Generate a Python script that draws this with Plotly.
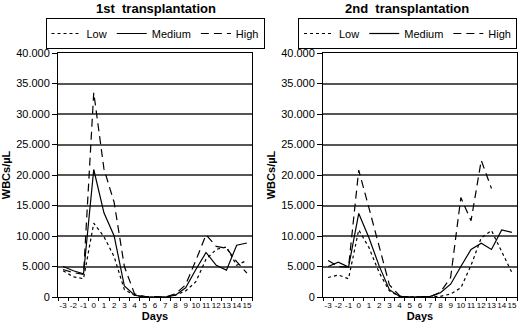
import plotly.graph_objects as go

days = ["-3", "-2", "-1", "0", "1", "2", "3", "4", "5", "6", "7", "8", "9", "10", "11", "12", "13", "14", "15"]

# 1st transplantation
low_1 = [4300, 3300, 3000, 12100, 9900, 6600, 1200, 300, 0, 0, 0, 300, 1000, 2500, 6200, 7800, 8200, 5200, 6000]
medium_1 = [5000, 4300, 3800, 20900, 13800, 10000, 1800, 300, 0, 0, 0, 300, 1500, 4500, 7300, 5200, 4400, 8500, 8850]
high_1 = [4500, 4000, 3700, 33500, 21000, 15500, 5000, 500, 100, 0, 0, 500, 2000, 6000, 10200, 8300, 8000, 5800, 3900]

# 2nd transplantation
low_2 = [3200, 3600, 3000, 11000, 8100, 4000, 1000, 100, 0, 0, 0, 100, 500, 1500, 5200, 9700, 10900, 7500, 4000]
medium_2 = [5000, 5700, 4900, 13700, 9700, 5100, 1200, 100, 0, 0, 100, 700, 2100, 5000, 7800, 8800, 7800, 11000, 10600]
high_2 = [6000, 5000, 4900, 20800, 14600, 8100, 2000, 200, 0, 0, 0, 800, 3200, 16300, 12500, 22400, 17800, None, None]

titles = ["1st  transplantation", "2nd  transplantation"]
series_names = ["Low", "Medium", "High"]
dashes = ["dot", "solid", "8px,5px"]

FONT = "Arial, Liberation Sans, sans-serif"
W, H = 520, 329
ML, MR, MT, MB = 58, 3, 53, 32
PW, PH = W - ML - MR, H - MT - MB

fig = go.Figure()

panels = [(low_1, medium_1, high_1), (low_2, medium_2, high_2)]
for p, vals in enumerate(panels):
    sfx = "" if p == 0 else "2"
    for name, v, d in zip(series_names, vals, dashes):
        fig.add_trace(go.Scatter(
            x=days, y=v, name=name, mode="lines",
            line=dict(color="black", width=1.2, dash=d),
            xaxis="x" + sfx, yaxis="y" + sfx,
            legend="legend" + sfx, connectgaps=False,
        ))

xd = [[0, (252 - ML) / PW], [(323 - ML) / PW, 1]]

axis_common_x = dict(
    type="category", showline=True, linecolor="black", linewidth=1, mirror=True,
    ticks="outside", ticklen=3, tickcolor="black", tickson="boundaries",
    tickangle=0, automargin=False,
    tickfont=dict(size=8, color="black", family=FONT),
    title=dict(text="<b>Days</b>", font=dict(size=11, color="black", family=FONT), standoff=3),
    showgrid=False, range=[-0.5, 18.5],
)
axis_common_y = dict(
    range=[0, 40000], dtick=5000, tickformat=",d",
    showline=True, linecolor="black", linewidth=1, mirror=True,
    ticks="outside", ticklen=5, tickcolor="black", automargin=False,
    showgrid=True, gridcolor="#555555", gridwidth=1.5,
    zeroline=False,
    tickfont=dict(size=11, color="black", family=FONT),
    title=dict(text="<b>WBCs/µL</b>", font=dict(size=11, color="black", family=FONT), standoff=3),
)

legend_common = dict(
    orientation="h", yanchor="top", xref="container", yref="container",
    bordercolor="black", borderwidth=1, bgcolor="white",
    font=dict(size=11, color="black", family=FONT),
    itemwidth=30, tracegroupgap=0,
)

fig.update_layout(
    width=W, height=H,
    margin=dict(l=ML, r=MR, t=MT, b=MB, autoexpand=False),
    paper_bgcolor="white", plot_bgcolor="white",
    separators=",.",
    font=dict(family=FONT, color="black"),
    showlegend=True,
    xaxis=dict(domain=xd[0], anchor="y", **axis_common_x),
    yaxis=dict(domain=[0, 1], anchor="x", **axis_common_y),
    xaxis2=dict(domain=xd[1], anchor="y2", **axis_common_x),
    yaxis2=dict(domain=[0, 1], anchor="x2", **axis_common_y),
    legend=dict(x=155 / W, xanchor="center", y=1 - 18 / H, **legend_common),
    legend2=dict(x=517 / W, xanchor="right", y=1 - 18 / H, **legend_common),
    annotations=[
        dict(text="<b>" + titles[0] + "</b>", x=(156 - ML) / PW, y=(H - MB - 8) / PH,
             xref="paper", yref="paper", showarrow=False, xanchor="center", yanchor="middle",
             font=dict(size=13, color="black", family=FONT)),
        dict(text="<b>" + titles[1] + "</b>", x=(407 - ML) / PW, y=(H - MB - 8) / PH,
             xref="paper", yref="paper", showarrow=False, xanchor="center", yanchor="middle",
             font=dict(size=13, color="black", family=FONT)),
    ],
)

fig.write_html("out.html", config={"displayModeBar": False},
               post_script="document.body.style.margin='0';document.body.style.padding='0';")
